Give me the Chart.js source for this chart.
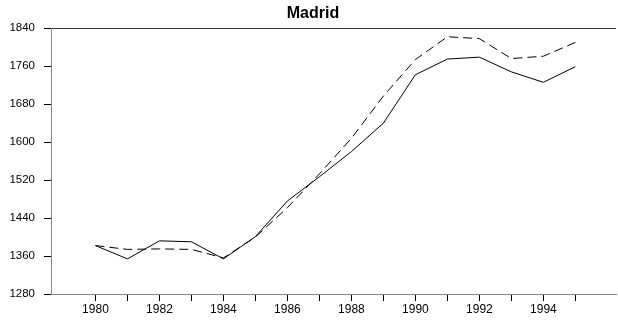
<!DOCTYPE html>
<html>
<head>
<meta charset="utf-8">
<script src="https://cdn.jsdelivr.net/npm/chart.js@4/dist/chart.umd.min.js"></script>
<style>
  html, body { margin: 0; padding: 0; background: #fff; }
  #wrap { width: 618px; height: 320px; }
</style>
</head>
<body>
<div id="wrap"><canvas id="madridChart" width="618" height="320"></canvas></div>
<script>
// chart data
const years = [1980, 1981, 1982, 1983, 1984, 1985, 1986, 1987, 1988, 1989, 1990, 1991, 1992, 1993, 1994, 1995];
const solidSeries = [1382, 1354, 1392, 1390, 1354, 1401, 1476, 1527, 1580, 1640, 1742, 1775, 1779, 1748, 1726, 1759];
const dashedSeries = [1382, 1374, 1375, 1374, 1356, 1400, 1462, 1533, 1608, 1697, 1774, 1822, 1818, 1776, 1781, 1810];
const yTicks = [1280, 1360, 1440, 1520, 1600, 1680, 1760, 1840];

const toPoints = vals => years.map((yr, i) => ({ x: yr, y: vals[i] }));

Chart.defaults.font.family = '"Liberation Sans", Arial, sans-serif';
Chart.defaults.color = '#000';

new Chart(document.getElementById('madridChart').getContext('2d'), {
  type: 'line',
  data: {
    datasets: [
      {
        label: 'solid',
        data: toPoints(solidSeries),
        borderColor: '#000',
        borderWidth: 1,
        pointRadius: 0,
        tension: 0,
        fill: false
      },
      {
        label: 'dashed',
        data: toPoints(dashedSeries),
        borderColor: '#000',
        borderWidth: 1,
        borderDash: [9, 5],
        pointRadius: 0,
        tension: 0,
        fill: false
      }
    ]
  },
  options: {
    responsive: false,
    animation: false,
    layout: { padding: { left: 10, right: 2, top: 0, bottom: 0 } },
    plugins: {
      legend: { display: false },
      tooltip: { enabled: false },
      title: {
        display: true,
        text: 'Madrid',
        color: '#000',
        font: { size: 16, weight: 'bold' },
        padding: { top: 4, bottom: 5 }
      }
    },
    scales: {
      x: {
        type: 'linear',
        min: 1978.61,
        max: 1996.27,
        afterBuildTicks: scale => {
          scale.ticks = years.map(v => ({ value: v }));
        },
        afterFit: scale => { scale.height = 26; },
        ticks: {
          autoSkip: false,
          maxRotation: 0,
          padding: 1,
          font: { size: 12 },
          callback: v => (v % 2 === 0 ? String(v) : '')
        },
        grid: {
          drawOnChartArea: false,
          tickLength: 7,
          tickColor: '#000'
        },
        border: { color: '#888', width: 1 }
      },
      y: {
        min: 1280,
        max: 1840,
        afterBuildTicks: scale => {
          scale.ticks = yTicks.map(v => ({ value: v }));
        },
        afterFit: scale => { scale.width = 41; },
        ticks: {
          padding: 9,
          font: { size: 11.5 },
          callback: v => String(v)
        },
        grid: {
          // only the top line is drawn across the plot
          color: ctx => (ctx.tick && ctx.tick.value === 1840 ? '#333' : 'rgba(0,0,0,0)'),
          tickLength: 7,
          tickColor: '#000'
        },
        border: { color: '#888', width: 1 }
      }
    }
  }
});
</script>
</body>
</html>
